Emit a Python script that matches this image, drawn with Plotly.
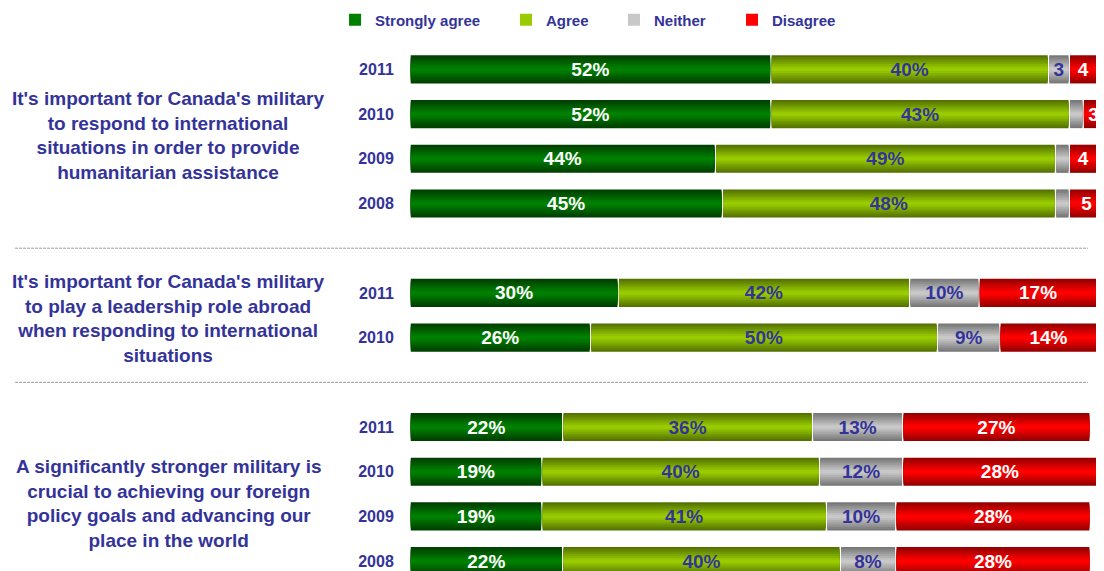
import plotly.graph_objects as go

# ---- data ----
row_pos = [0, 1, 2, 3, 5, 6, 8, 9, 10, 11]
years = ["2011", "2010", "2009", "2008", "2011", "2010", "2011", "2010", "2009", "2008"]
strongly_agree = [52, 52, 44, 45, 30, 26, 22, 19, 19, 22]
agree = [40, 43, 49, 48, 42, 50, 36, 40, 41, 40]
neither = [3, 2, 2, 2, 10, 9, 13, 12, 10, 8]
disagree = [4, 3, 4, 5, 17, 14, 27, 28, 28, 28]

questions = [
    "It's important for Canada's military<br>to respond to international<br>situations in order to provide<br>humanitarian assistance",
    "It's important for Canada's military<br>to play a leadership role abroad<br>when responding to international<br>situations",
    "A significantly stronger military is<br>crucial to achieving our foreign<br>policy goals and advancing our<br>place in the world",
]
question_y = [1.47, 5.57, 9.71]
separator_y = [4, 7]

series = [
    ("Strongly agree", strongly_agree, (0, 64, 0), (0, 128, 0), "white"),
    ("Agree", agree, (85, 115, 0), (153, 204, 0), "#333399"),
    ("Neither", neither, (120, 120, 120), (200, 200, 200), "#333399"),
    ("Disagree", disagree, (150, 0, 0), (255, 0, 0), "white"),
]

TEXT = "#333399"
FONT = "Liberation Sans, Arial, sans-serif"
BAR_H = 0.63
N_LAYERS = 8
GAP = 0.22

# the page body has an 8px default margin: size the figure so it fills the window
FIG_W, FIG_H = 1096, 563


def label(v):
    if v >= 8:
        return f"{v}%"
    if v >= 3:
        return str(v)
    return ""


def mix(a, b, t):
    return "rgb(%d,%d,%d)" % tuple(round(a[i] + (b[i] - a[i]) * t) for i in range(3))


fig = go.Figure()
legend_names = ["legend", "legend2", "legend3", "legend4"]
cum = [0] * len(row_pos)
for si, (name, vals, edge, center, tcol) in enumerate(series):
    bases = [c + GAP / 2 for c in cum]
    widths = [v - GAP for v in vals]
    for k in range(N_LAYERS):
        t = k / (N_LAYERS - 1)
        fig.add_trace(go.Bar(
            orientation="h", y=row_pos, x=widths, base=bases,
            width=BAR_H * (1 - k / N_LAYERS),
            marker=dict(color=mix(edge, center, t), line=dict(width=0)),
            name=name, showlegend=(k == N_LAYERS - 1),
            legend=legend_names[si], hoverinfo="skip",
        ))
    fig.add_trace(go.Bar(
        orientation="h", y=row_pos, x=vals, base=list(cum), width=BAR_H,
        marker=dict(color="rgba(0,0,0,0)", line=dict(width=0)),
        text=[label(v) for v in vals], textposition="inside",
        insidetextanchor="middle", textangle=0, constraintext="none",
        textfont=dict(family=FONT, size=19, color=tcol, weight="bold"),
        showlegend=False, name=name,
    ))
    cum = [c + v for c, v in zip(cum, vals)]

for q, qy in zip(questions, question_y):
    fig.add_annotation(
        text=q, xref="paper", x=-0.3487, yref="y", y=qy,
        xanchor="center", yanchor="middle", align="center", showarrow=False,
        font=dict(family=FONT, size=19, color=TEXT, weight="bold"),
    )

for sy in separator_y:
    fig.add_shape(type="line", xref="paper", x0=-0.569, x1=0.977, yref="y", y0=sy, y1=sy,
                  line=dict(color="#9a9a9a", width=1, dash="3px,1px"))

leg_x = [-0.108, 0.1383, 0.2939, 0.464]
leg_common = dict(orientation="h", yref="container", y=1 - 12 / FIG_H, yanchor="middle",
                  xanchor="left", bgcolor="rgba(0,0,0,0)", itemwidth=30,
                  font=dict(family=FONT, size=15, color=TEXT, weight="bold"))
layout_legends = {}
for ln, lx in zip(legend_names, leg_x):
    layout_legends[ln] = dict(x=lx, **leg_common)

fig.update_layout(
    width=FIG_W, height=FIG_H, barmode="overlay",
    margin=dict(l=402, r=0, t=39, b=0, autoexpand=False),
    plot_bgcolor="white", paper_bgcolor="white",
    xaxis=dict(range=[0, 100], visible=False, fixedrange=True),
    yaxis=dict(range=[11.22, -0.5], tickvals=row_pos, ticktext=years,
               ticks="outside", ticklen=12, tickcolor="white",
               showgrid=False, zeroline=False, showline=False,
               tickfont=dict(family=FONT, size=16, color=TEXT, weight="bold")),
    showlegend=True,
    **layout_legends,
)

fig.write_html("out.html")
